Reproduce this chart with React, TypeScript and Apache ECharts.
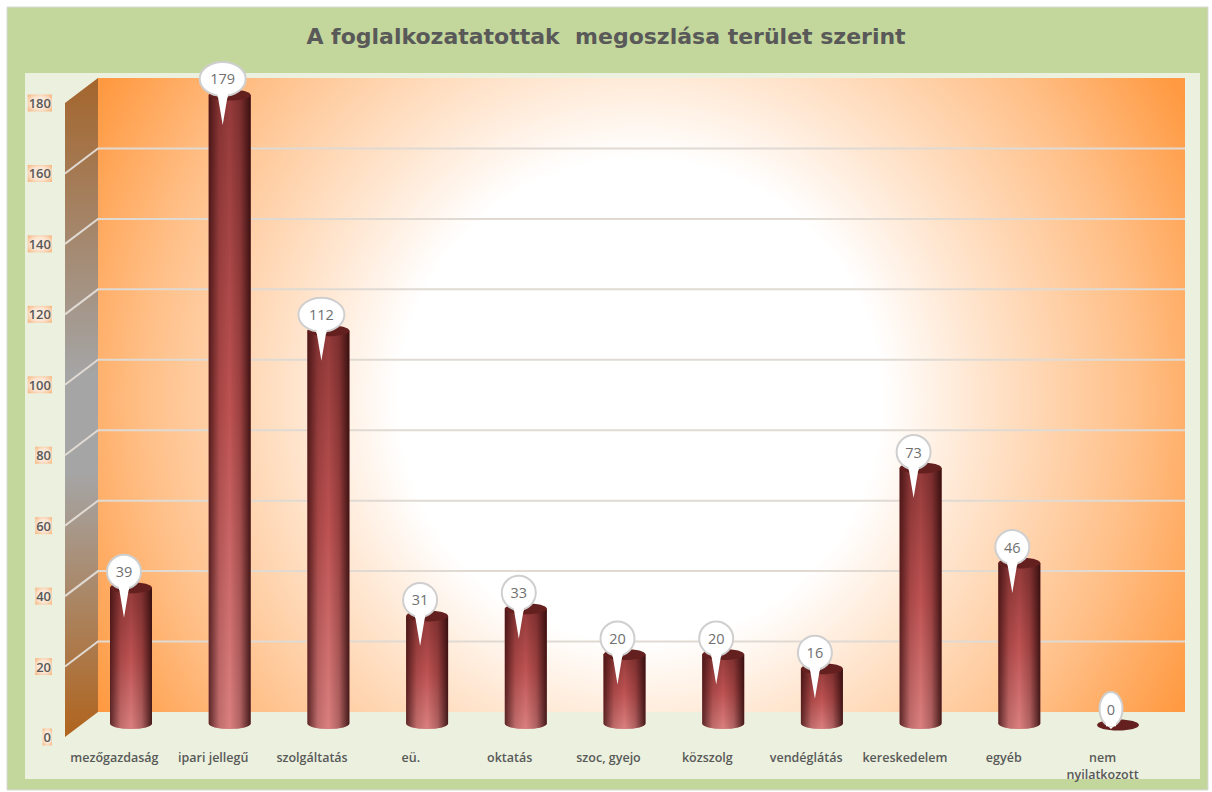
import React, { useEffect, useRef } from "react";
import * as echarts from "echarts";

const titleText = "A foglalkozatatottak  megoszlása terület szerint";
const categories = ["mezőgazdaság", "ipari jellegű", "szolgáltatás", "eü.", "oktatás", "szoc, gyejo", "közszolg", "vendéglátás", "kereskedelem", "egyéb", "nem\nnyilatkozott"];
const values = [39, 179, 112, 31, 33, 20, 20, 16, 73, 46, 0];
const gridValues = [20, 40, 60, 80, 100, 120, 140, 160];

const FONT = "'Open Sans', 'Noto Sans', sans-serif";
const DEPTH_X = 33;
const DEPTH_Y = 25;
const WALL_RIGHT = 1185;

function renderGridLine(_p: any, api: any) {
  const [cx, y] = api.coord([0, api.value(0)]);
  const x = cx - api.size([1, 0])[0] / 2;
  return {
    type: "polyline",
    shape: { points: [[x, y], [x + DEPTH_X, y - DEPTH_Y], [WALL_RIGHT, y - DEPTH_Y]] },
    style: { fill: "none", stroke: "#E0DAD3", lineWidth: 2 },
  };
}

function renderCylinder(_p: any, api: any) {
  const idx = api.value(0);
  const v = api.value(1);
  const [cx, top] = api.coord([idx, v]);
  const [, base] = api.coord([idx, 0]);
  const rx = 21;
  const ry = 5.5;
  const baseRy = 5.5;
  const sideEnd = base - 1.5;
  const l = cx - rx;
  const r = cx + rx;
  const children: any[] = [];
  const h = base - top;
  if (h > 0.5) {
    const d = `M${l} ${top}L${r} ${top}L${r} ${sideEnd}A${rx} ${baseRy} 0 0 1 ${l} ${sideEnd}Z`;
    const shape = { pathData: d, x: l, y: top, width: rx * 2, height: sideEnd + baseRy - top, layout: "cover" };
    children.push({
      type: "path",
      shape,
      style: {
        fill: new echarts.graphic.LinearGradient(0, 0, 0, 1, [
          { offset: 0, color: "#943A3A" },
          { offset: 0.5, color: "#BE5252" },
          { offset: 1, color: "#DB8080" },
        ]),
      },
    });
    children.push({
      type: "path",
      shape,
      style: {
        fill: new echarts.graphic.LinearGradient(0, 0, 1, 0, [
          { offset: 0, color: "rgba(50,10,10,0.75)" },
          { offset: 0.25, color: "rgba(50,10,10,0.16)" },
          { offset: 0.5, color: "rgba(50,10,10,0)" },
          { offset: 0.75, color: "rgba(50,10,10,0.25)" },
          { offset: 1, color: "rgba(40,8,8,0.85)" },
        ]),
      },
    });
  }
  children.push({
    type: "ellipse",
    shape: { cx, cy: top, rx, ry },
    style: { fill: "#64201F" },
  });

  const label = String(v);
  const bubbleRx = label.length === 3 ? 23 : label.length === 2 ? 17 : 11.5;
  const bubbleRy = 17;
  const bx = cx - 7;
  const by = top - 16;
  const tipY = h > 0.5 ? top + 30 : top + 4;
  const spike = 5;
  const y0 = by + bubbleRy * Math.sqrt(1 - (spike * spike) / (bubbleRx * bubbleRx));
  const arc = `M${bx - spike} ${y0}A${bubbleRx} ${bubbleRy} 0 1 1 ${bx + spike} ${y0}`;
  const frame = { x: bx - bubbleRx, y: by - bubbleRy, width: bubbleRx * 2, layout: "cover" };
  children.push({
    type: "path",
    shape: { ...frame, pathData: `${arc}L${bx} ${tipY}Z`, height: tipY - by + bubbleRy },
    style: { fill: "#FFFFFF" },
  });
  children.push({
    type: "ellipse",
    shape: { cx: bx, cy: by, rx: bubbleRx, ry: bubbleRy },
    style: { fill: "none", stroke: "#CFCFCF", lineWidth: 2 },
  });
  children.push({
    type: "path",
    shape: { pathData: `M${bx - spike} ${by}L${bx + spike} ${by}L${bx + spike} ${y0 + 2}L${bx - spike} ${y0 + 2}Z`, x: bx - spike, y: by, width: spike * 2, height: y0 + 2 - by, layout: "cover" },
    style: { fill: "#FFFFFF" },
  });
  children.push({
    type: "text",
    x: bx,
    y: by,
    style: { text: label, fill: "#707070", font: `14.5px ${FONT}`, align: "center", verticalAlign: "middle" },
  });
  return { type: "group", children };
}

export default function App() {
  const ref = useRef<HTMLDivElement>(null);
  useEffect(() => {
    const chart = echarts.init(ref.current!, undefined, { renderer: "svg" });
    chart.setOption({
      animation: false,
      backgroundColor: "#FFFFFF",
      title: {
        text: titleText,
        left: "center",
        top: 20,
        textStyle: { color: "#595959", fontFamily: "'DejaVu Sans', sans-serif", fontWeight: "bold", fontSize: 22 },
      },
      graphic: [
        { type: "rect", z: -10, shape: { x: 7, y: 7, width: 1201, height: 783 }, style: { fill: "#C3D69B", stroke: "#D9D9D9", lineWidth: 1 } },
        { type: "rect", z: -9, shape: { x: 25, y: 73, width: 1175, height: 706 }, style: { fill: "#EBF1DE" } },
        {
          type: "rect",
          z: -8,
          shape: { x: 98, y: 78, width: WALL_RIGHT - 98, height: 634 },
          style: {
            fill: new echarts.graphic.RadialGradient(640, 400, 620, [
              { offset: 0, color: "#FFFFFF" },
              { offset: 0.39, color: "#FFFFFF" },
              { offset: 0.55, color: "#FFE5CE" },
              { offset: 0.8, color: "#FFBF87" },
              { offset: 1, color: "#FF9A42" },
            ], true),
          },
        },
        {
          type: "polygon",
          z: -8,
          shape: { points: [[65, 103], [98, 78], [98, 712], [65, 737]] },
          style: {
            fill: new echarts.graphic.LinearGradient(0, 0, 0, 1, [
              { offset: 0, color: "#A4652C" },
              { offset: 0.45, color: "#A5A5A5" },
              { offset: 0.6, color: "#A5A5A5" },
              { offset: 1, color: "#B0641E" },
            ]),
          },
        },
      ],
      grid: [
        { left: 65, width: 1087, top: 103, height: 634 },
        { left: 81.65, width: 1085.7, top: 91.4, height: 633.6 },
      ],
      xAxis: [
        {
          type: "category",
          gridIndex: 0,
          data: categories,
          axisLine: { show: false },
          axisTick: { show: false },
          axisLabel: { color: "#595959", fontFamily: FONT, fontSize: 12.5, fontWeight: 600, margin: 12, lineHeight: 17, interval: 0 },
        },
        { type: "category", gridIndex: 1, data: categories, show: false },
      ],
      yAxis: [
        {
          type: "value",
          gridIndex: 0,
          min: 0,
          max: 180,
          interval: 20,
          axisLine: { show: false },
          axisTick: { show: false },
          splitLine: { show: false },
          axisLabel: {
            color: "#595959",
            fontFamily: FONT,
            fontSize: 13,
            fontWeight: 600,
            margin: 13,
            backgroundColor: new echarts.graphic.RadialGradient(0.5, 0.5, 0.7, [
              { offset: 0, color: "#FDF3EA" },
              { offset: 0.55, color: "#FCE4D0" },
              { offset: 1, color: "#F6B27A" },
            ]),
            padding: [2, 1],
          },
        },
        { type: "value", gridIndex: 1, min: 0, max: 180, interval: 20, show: false },
      ],
      series: [
        {
          type: "custom",
          xAxisIndex: 0,
          yAxisIndex: 0,
          z: 1,
          renderItem: renderGridLine,
          encode: { y: 0 },
          data: gridValues.map((v) => [v]),
          silent: true,
        },
        {
          type: "custom",
          xAxisIndex: 1,
          yAxisIndex: 1,
          z: 2,
          renderItem: renderCylinder,
          encode: { x: 0, y: 1 },
          data: values.map((v, i) => [i, v]),
          silent: true,
        },
      ],
    });
    return () => chart.dispose();
  }, []);
  return <div ref={ref} style={{ position: "fixed", left: 0, top: 0, width: 1212, height: 792 }} />;
}
